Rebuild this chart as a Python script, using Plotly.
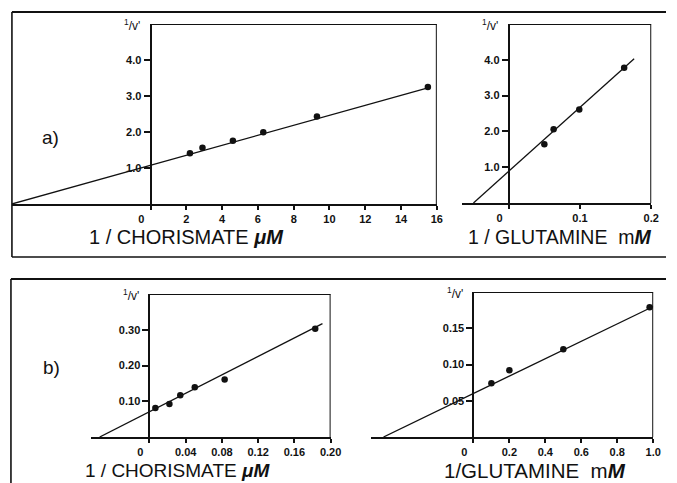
import plotly.graph_objects as go

# ---------------- data ----------------
# a) 1/v' versus 1/[chorismate] (uM^-1)
a_chor_x = [2.2, 2.9, 4.6, 6.3, 9.3, 15.5]
a_chor_y = [1.41, 1.56, 1.76, 1.99, 2.43, 3.25]
a_chor_fit_x = [-7.75, 15.6]
a_chor_fit_y = [0.0, 3.24]

# a) 1/v' versus 1/[glutamine] (mM^-1)
a_glu_x = [0.050, 0.063, 0.099, 0.162]
a_glu_y = [1.64, 2.06, 2.61, 3.78]
a_glu_fit_x = [-0.0495, 0.176]
a_glu_fit_y = [0.0, 4.03]

# b) 1/v' versus 1/[chorismate] (uM^-1)
b_chor_x = [0.0065, 0.022, 0.034, 0.050, 0.083, 0.183]
b_chor_y = [0.081, 0.092, 0.117, 0.139, 0.161, 0.303]
b_chor_fit_x = [-0.055, 0.191]
b_chor_fit_y = [0.0, 0.317]

# b) 1/v' versus 1/[glutamine] (mM^-1)
b_glu_x = [0.1, 0.2, 0.5, 0.98]
b_glu_y = [0.074, 0.092, 0.121, 0.179]
b_glu_fit_x = [-0.5, 1.0]
b_glu_fit_y = [0.0, 0.18]

# tick values / labels
a_chor_xticks = [0, 2, 4, 6, 8, 10, 12, 14, 16]
a_glu_xticks = [0, 0.1, 0.2]
b_chor_xticks = [0, 0.04, 0.08, 0.12, 0.16, 0.20]
b_glu_xticks = [0, 0.2, 0.4, 0.6, 0.8, 1.0]
a_yticks = [1.0, 2.0, 3.0, 4.0]
b_chor_yticks = [0.10, 0.20, 0.30]
b_glu_yticks = [0.05, 0.10, 0.15]

# ---------------- layout geometry (pixels of the reference window) ----------------
WIN_W, WIN_H = 677, 483
OFF = 8                      # the page body has an 8px margin
W, H = WIN_W - OFF, WIN_H - OFF
FONT = "Arial, Liberation Sans, Helvetica, sans-serif"
INK = "#111111"

def px(x):
    return (x - OFF) / W

def py(y):
    return 1 - (y - OFF) / H

panels = [
    dict(xr=[-7.75, 16], yr=[0, 5], l=12, r=444, t=24, b=204,
         xt=a_chor_xticks, xfmt=lambda v: f"{v:g}", yt=a_yticks, yfmt=".1f",
         x=a_chor_x, y=a_chor_y, fx=a_chor_fit_x, fy=a_chor_fit_y),
    dict(xr=[-0.065, 0.2], yr=[0, 5], l=470, r=662, t=24, b=203,
         xt=a_glu_xticks, xfmt=lambda v: f"{v:g}", yt=a_yticks, yfmt=".1f",
         x=a_glu_x, y=a_glu_y, fx=a_glu_fit_x, fy=a_glu_fit_y),
    dict(xr=[-0.065, 0.2], yr=[0, 0.4], l=92, r=336, t=294, b=437,
         xt=b_chor_xticks, xfmt=lambda v: "0" if v == 0 else f"{v:.2f}", yt=b_chor_yticks, yfmt=".2f",
         x=b_chor_x, y=b_chor_y, fx=b_chor_fit_x, fy=b_chor_fit_y),
    dict(xr=[-0.57, 1.0], yr=[0, 0.2], l=377, r=664, t=292, b=437,
         xt=b_glu_xticks, xfmt=lambda v: "0" if v == 0 else f"{v:.1f}", yt=b_glu_yticks, yfmt=".2f",
         x=b_glu_x, y=b_glu_y, fx=b_glu_fit_x, fy=b_glu_fit_y),
]

fig = go.Figure()
layout = dict(
    width=W, height=H, margin=dict(l=0, r=0, t=0, b=0),
    paper_bgcolor="white", plot_bgcolor="rgba(0,0,0,0)",
    showlegend=False, font=dict(family=FONT, color=INK),
)
shapes = []
annotations = []

for i, p in enumerate(panels):
    n = "" if i == 0 else str(i + 1)
    xa, ya = "x" + n, "y" + n
    fig.add_trace(go.Scatter(x=p["fx"], y=p["fy"], mode="lines", xaxis=xa, yaxis=ya,
                             line=dict(color=INK, width=1.3), hoverinfo="skip"))
    fig.add_trace(go.Scatter(x=p["x"], y=p["y"], mode="markers", xaxis=xa, yaxis=ya,
                             marker=dict(color=INK, size=6.5), cliponaxis=False))
    x0, x1 = p["xr"]
    zero_px = p["l"] + (0 - x0) / (x1 - x0) * (p["r"] - p["l"])
    ticktext = [p["xfmt"](v) for v in p["xt"]]
    ticktext = ["0\u00a0\u00a0\u00a0\u00a0\u00a0\u00a0" if t == "0" else t for t in ticktext]
    layout["xaxis" + n] = dict(
        domain=[px(p["l"]), px(p["r"])], range=p["xr"], anchor=ya,
        showline=True, linecolor=INK, linewidth=2, showgrid=False, zeroline=False,
        ticks="outside", ticklen=4, tickwidth=1.5, tickcolor=INK,
        tickvals=p["xt"], ticktext=ticktext,
        tickfont=dict(family=FONT, size=11, color=INK, weight="bold"),
    )
    layout["yaxis" + n] = dict(
        domain=[py(p["b"]), py(p["t"])], range=p["yr"], anchor="free", position=px(zero_px),
        showline=True, linecolor=INK, linewidth=2, showgrid=False, zeroline=False,
        ticks="outside", ticklen=6, tickwidth=1.5, tickcolor=INK,
        tickvals=p["yt"], tickformat=p["yfmt"],
        tickfont=dict(family=FONT, size=11, color=INK, weight="bold"),
    )
    # top and right sides of the plot frame
    shapes.append(dict(type="line", xref=xa, yref=ya, x0=0, x1=x1, y0=p["yr"][1], y1=p["yr"][1],
                       line=dict(color=INK, width=2)))
    shapes.append(dict(type="line", xref=xa, yref=ya, x0=x1, x1=x1, y0=0, y1=p["yr"][1],
                       line=dict(color=INK, width=2)))
    # 1/v' label
    annotations.append(dict(xref="paper", yref="paper", x=px(zero_px - 19), y=py(p["t"] + 1),
                            text="<sup>1</sup>/v'", showarrow=False, xanchor="center", yanchor="middle",
                            font=dict(family=FONT, size=12, color=INK)))

# outer panel boxes
def pline(xa0, ya0, xa1, ya1, w=1.6):
    shapes.append(dict(type="line", xref="paper", yref="paper", x0=px(xa0), y0=py(ya0),
                       x1=px(xa1), y1=py(ya1), line=dict(color=INK, width=w)))

pline(12, 12, 677, 12, 2)
pline(12, 12, 12, 257)
pline(12, 257, 677, 257)
pline(11, 279, 677, 279, 2)
pline(11, 279, 11, 483)

def label(text, x, y, size, anchor="left"):
    annotations.append(dict(xref="paper", yref="paper", x=px(x), y=py(y), text=text, showarrow=False,
                            xanchor=anchor, yanchor="middle", font=dict(family=FONT, size=size, color=INK)))

label("a)", 51, 138, 19, "center")
label("b)", 52, 367, 19, "center")
label("1 / CHORISMATE <b><i>\u03bcM</i></b>", 88, 237, 20)
label("1 / GLUTAMINE  m<b><i>M</i></b>", 474, 237, 19.5)
label("1 / CHORISMATE <b><i>\u03bcM</i></b>", 84, 470, 19)
label("1/GLUTAMINE  m<b><i>M</i></b>", 449, 470, 20.5)

layout["shapes"] = shapes
layout["annotations"] = annotations
fig.update_layout(**layout)
fig.write_html("out.html")
